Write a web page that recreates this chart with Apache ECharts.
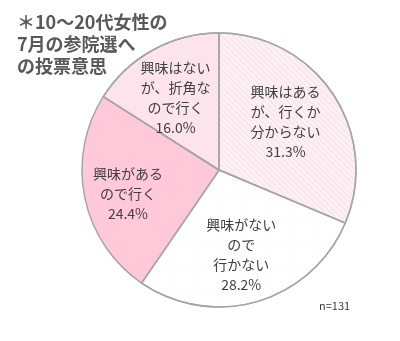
<!DOCTYPE html>
<html><head><meta charset="utf-8">
<script src="https://cdn.jsdelivr.net/npm/echarts@6/dist/echarts.min.js"></script>
<style>html,body{margin:0;padding:0;background:#fff}#c{width:400px;height:341px}</style>
</head><body><div id="c"></div>
<script>
const categories = [
  '興味はある\nが、行くか\n分からない',
  '興味がない\nので\n行かない',
  '興味がある\nので行く',
  '興味はない\nが、折角な\nので行く'
];
const values = [31.3, 28.2, 24.4, 16.0];
const titleText = '＊10～20代女性の\n7月の参院選へ\nの投票意思';
const sampleNote = 'n=131';

// layout / style (not data)
const labelShift = [[7, -9], [2, 16], [-21, 9], [-9, -10]];
const F = '"Noto Sans CJK JP","Noto Sans",sans-serif';
const styles = [
  {color: '#fdf1f5', decal: {symbol: 'rect', symbolSize: 1, color: '#f8e0e8', dashArrayX: [1, 0], dashArrayY: [1, 2.5], rotation: Math.PI / 4}},
  {color: '#ffffff', decal: {symbol: 'circle', symbolSize: 0.6, color: '#e0d8dc', dashArrayX: [1, 5], dashArrayY: [1, 5]}},
  {color: '#ffc9d9'},
  {color: '#fce3ec', decal: {symbol: 'circle', symbolSize: 0.6, color: '#fff6f9', dashArrayX: [1, 5], dashArrayY: [1, 5]}}
];

const chart = echarts.init(document.getElementById('c'), null, {renderer: 'canvas'});
chart.setOption({
  animation: false,
  title: [
    {text: titleText, left: 12, top: 6, textStyle: {fontFamily: F, fontSize: 18, fontWeight: 'bold', color: '#595959', lineHeight: 22}},
    {text: sampleNote, left: 314, top: 295, textStyle: {fontFamily: F, fontSize: 11, fontWeight: 'normal', color: '#404040'}}
  ],
  series: [{
    type: 'pie',
    center: [219, 170],
    radius: [0, 137],
    startAngle: 90,
    clockwise: true,
    itemStyle: {borderColor: '#a6a6a6', borderWidth: 1.5},
    label: {
      position: 'inside',
      fontFamily: F, fontSize: 14, lineHeight: 20, color: '#404040',
      formatter: p => p.name + '\n' + p.value.toFixed(1) + '%'
    },
    labelLine: {show: false},
    emphasis: {disabled: true},
    labelLayout: p => ({dx: labelShift[p.dataIndex][0], dy: labelShift[p.dataIndex][1]}),
    data: categories.map((c, i) => ({name: c, value: values[i], itemStyle: styles[i]}))
  }]
});
</script></body></html>
